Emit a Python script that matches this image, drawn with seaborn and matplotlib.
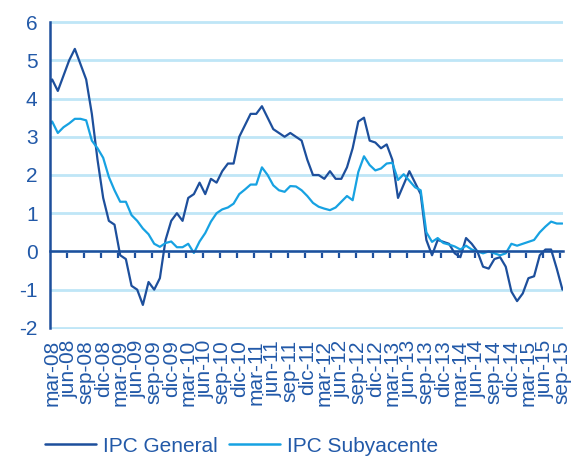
import numpy as np
import pandas as pd
import matplotlib
matplotlib.use("Agg")
import matplotlib.pyplot as plt
import seaborn as sns

# Monthly data, Feb-08 .. Sep-15
ipc_general = [
    4.3, 4.5, 4.2, 4.6, 5.0, 5.3, 4.9, 4.5, 3.6, 2.4, 1.4,
    0.8, 0.7, -0.1, -0.2, -0.9, -1.0, -1.4, -0.8, -1.0, -0.7, 0.3, 0.8,
    1.0, 0.8, 1.4, 1.5, 1.8, 1.5, 1.9, 1.8, 2.1, 2.3, 2.3, 3.0,
    3.3, 3.6, 3.6, 3.8, 3.5, 3.2, 3.1, 3.0, 3.1, 3.0, 2.9, 2.4,
    2.0, 2.0, 1.9, 2.1, 1.9, 1.9, 2.2, 2.7, 3.4, 3.5, 2.9, 2.85,
    2.7, 2.8, 2.4, 1.4, 1.75, 2.1, 1.8, 1.5, 0.3, -0.1, 0.3, 0.25,
    0.2, -0.05, -0.15, 0.35, 0.2, 0.0, -0.4, -0.45, -0.2, -0.15, -0.4, -1.05,
    -1.3, -1.1, -0.7, -0.65, -0.1, 0.05, 0.05, -0.45, -1.0,
]
ipc_subyacente = [
    3.2, 3.4, 3.1, 3.25, 3.35, 3.47, 3.47, 3.43, 2.9, 2.7, 2.45,
    1.95, 1.6, 1.3, 1.3, 0.95, 0.8, 0.6, 0.45, 0.2, 0.12, 0.22, 0.26,
    0.11, 0.11, 0.2, -0.04, 0.26, 0.48, 0.78, 1.0, 1.1, 1.15, 1.25, 1.5,
    1.62, 1.75, 1.75, 2.2, 2.0, 1.73, 1.6, 1.56, 1.71, 1.7, 1.6, 1.45,
    1.27, 1.17, 1.12, 1.08, 1.15, 1.3, 1.45, 1.34, 2.08, 2.49, 2.26, 2.12,
    2.17, 2.3, 2.32, 1.87, 2.02, 1.85, 1.68, 1.6, 0.5, 0.25, 0.35, 0.22,
    0.18, 0.13, 0.05, 0.15, 0.05, 0.0, -0.05, 0.0, -0.05, -0.1, -0.05, 0.2,
    0.15, 0.2, 0.25, 0.3, 0.5, 0.65, 0.78, 0.73, 0.73,
]
tick_labels = [
    "mar-08", "jun-08", "sep-08", "dic-08",
    "mar-09", "jun-09", "sep-09", "dic-09",
    "mar-10", "jun-10", "sep-10", "dic-10",
    "mar-11", "jun-11", "sep-11", "dic-11",
    "mar-12", "jun-12", "sep-12", "dic-12",
    "mar-13", "jun-13", "sep-13", "dic-13",
    "mar-14", "jun-14", "sep-14", "dic-14",
    "mar-15", "jun-15", "sep-15",
]
series_names = ["IPC General", "IPC Subyacente"]

n = len(ipc_general)
month_idx = np.arange(n)
df = pd.DataFrame({
    "mes": np.concatenate([month_idx, month_idx]),
    "valor": ipc_general + ipc_subyacente,
    "serie": [series_names[0]] * n + [series_names[1]] * n,
})

DARK = "#1d4f9c"
LIGHT = "#17a2e2"
GRID = "#bfe6f7"
TXT = "#2259a8"

sns.set_style("white")
plt.rcParams["font.family"] = ["Liberation Sans", "DejaVu Sans"]
plt.rcParams["axes.unicode_minus"] = False

fig = plt.figure(figsize=(5.74, 4.58), dpi=100)
ax = fig.add_axes([50 / 574, 1 - 329 / 458, (563 - 50) / 574, (329 - 21) / 458])

sns.lineplot(data=df, x="mes", y="valor", hue="serie",
             palette={series_names[0]: DARK, series_names[1]: LIGHT},
             linewidth=1.6, ax=ax, legend=False, zorder=3)

ax.set_xlim(0.62, 91.1)
ax.set_ylim(-2.03, 6.03)
ax.set_xlabel("")
ax.set_ylabel("")

# horizontal gridlines
for v in range(-2, 7):
    ax.axhline(v, color=GRID, lw=2.0, zorder=1)

# spines
for s in ["top", "right"]:
    ax.spines[s].set_visible(False)
ax.spines["left"].set_color(DARK)
ax.spines["left"].set_linewidth(1.8)
ax.spines["left"].set_bounds(-2, 6)
ax.spines["left"].set_zorder(4)
ax.spines["bottom"].set_position(("data", 0))
ax.spines["bottom"].set_color(DARK)
ax.spines["bottom"].set_linewidth(1.8)
ax.spines["bottom"].set_zorder(4)

ax.set_yticks(range(-2, 7))
ax.tick_params(axis="y", direction="out", length=6, width=1.6, color=DARK,
               labelcolor=TXT, labelsize=15, pad=3)

tick_pos = 0.65 + 3 * np.arange(1, 31)
ax.set_xticks(tick_pos)
ax.set_xticklabels([])
ax.tick_params(axis="x", direction="out", length=5, width=1.6, color=DARK)

# category labels at the bottom
ax2 = ax.twiny()
ax2.set_xlim(ax.get_xlim())
ax2.xaxis.set_ticks_position("bottom")
for s in ax2.spines.values():
    s.set_visible(False)
label_pos = 1 + 3 * np.arange(len(tick_labels))
ax2.set_xticks(label_pos)
ax2.set_xticklabels(tick_labels, rotation=90, ha="center", va="top")
ax2.tick_params(axis="x", length=0, pad=8, labelsize=15, labelcolor=TXT)

# legend
from matplotlib.lines import Line2D
handles = [Line2D([], [], color=DARK, lw=1.8), Line2D([], [], color=LIGHT, lw=1.8)]
leg = fig.legend(handles, series_names, loc="center left",
                 bbox_to_anchor=(45 / 574, 1 - 446 / 458), ncol=2, frameon=False,
                 fontsize=15, handlelength=2.45, handletextpad=0.35,
                 columnspacing=0.5, borderpad=0, borderaxespad=0)
for t in leg.get_texts():
    t.set_color(TXT)

fig.savefig("out.png", dpi=100)
